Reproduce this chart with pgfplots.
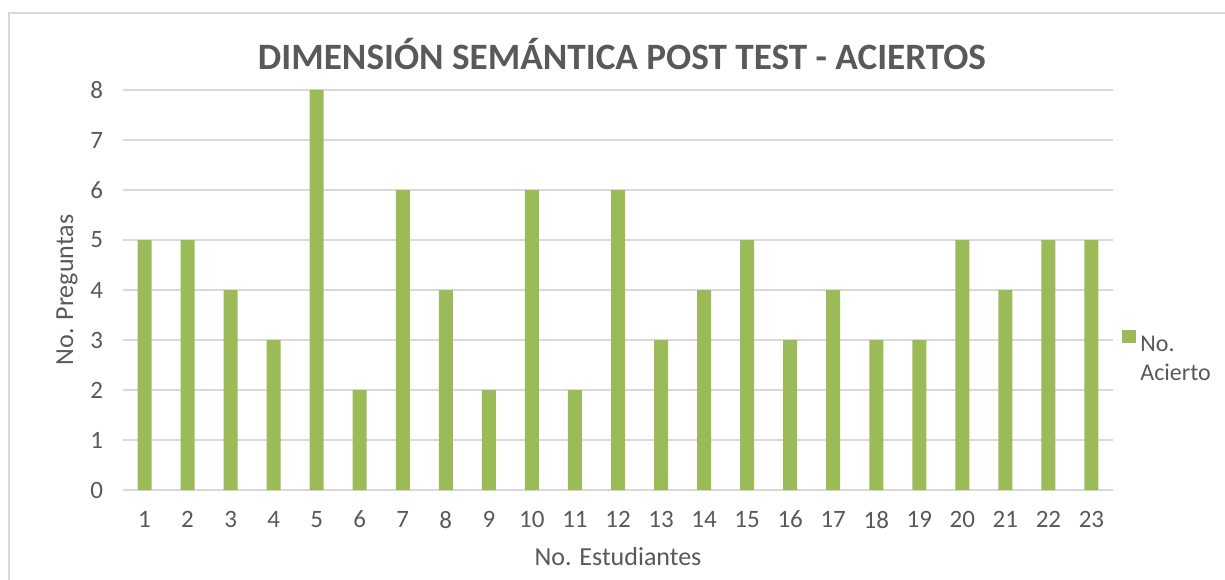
\documentclass[border=0pt]{standalone}
\usepackage{pgfplots}
\pgfplotsset{compat=1.18}
\usepackage{fontspec}
\setmainfont{Carlito}
\definecolor{barcol}{HTML}{9BBB59}
\definecolor{gridcol}{HTML}{D9D9D9}
\definecolor{txt}{HTML}{595959}
\begin{document}
\begin{tikzpicture}
\useasboundingbox (0,0) rectangle (612.5pt,289.5pt);
\draw[gridcol, line width=0.75pt] (4.5pt,-20pt) rectangle (640pt,283pt);
\begin{axis}[
 at={(61.5pt,44.5pt)}, anchor=south west,
 scale only axis, width=495pt, height=200pt,
 xmin=0.5, xmax=23.5, ymin=0, ymax=8,
 xtick={1,...,23}, ytick={0,...,8},
 major tick length=0pt,
 axis line style={draw=none},
 ymajorgrids, grid style={gridcol, line width=0.75pt},
 tick label style={font=\fontsize{12.5}{15}\selectfont, text=txt},
 /pgf/number format/assume math mode=true,
 yticklabel style={xshift=-6.5pt},
 xticklabel style={yshift=-7pt},
 title={DIMENSIÓN SEMÁNTICA POST TEST - ACIERTOS},
 title style={at={(axis description cs:0.504,1.06)}, anchor=center, font=\fontsize{18.6}{21}\selectfont\bfseries, text=txt},
 xlabel={No. Estudiantes},
 xlabel style={at={(axis description cs:0.5,-0.1675)}, anchor=center, font=\fontsize{13}{15}\selectfont, text=txt},
 ylabel={No. Preguntas},
 ylabel style={at={(axis description cs:-0.0566,0.5)}, anchor=center, font=\fontsize{13}{15}\selectfont, text=txt},
 legend style={draw=none, fill=none, at={(1.003,0.418)}, anchor=north west, font=\fontsize{12}{14.5}\selectfont, text=txt},
 legend cell align=left,
 legend image code/.code={\fill[#1] (0pt,0pt) rectangle (7pt,6.5pt);},
]
\addplot[ybar, fill=barcol, draw=none, bar width=7pt] coordinates {
(1,5) (2,5) (3,4) (4,3) (5,8) (6,2) (7,6) (8,4) (9,2) (10,6) (11,2) (12,6)
(13,3) (14,4) (15,5) (16,3) (17,4) (18,3) (19,3) (20,5) (21,4) (22,5) (23,5)};
\addlegendentry{\begin{tabular}[t]{@{}l@{}}No.\\Acierto\end{tabular}}
\end{axis}
\end{tikzpicture}
\end{document}
